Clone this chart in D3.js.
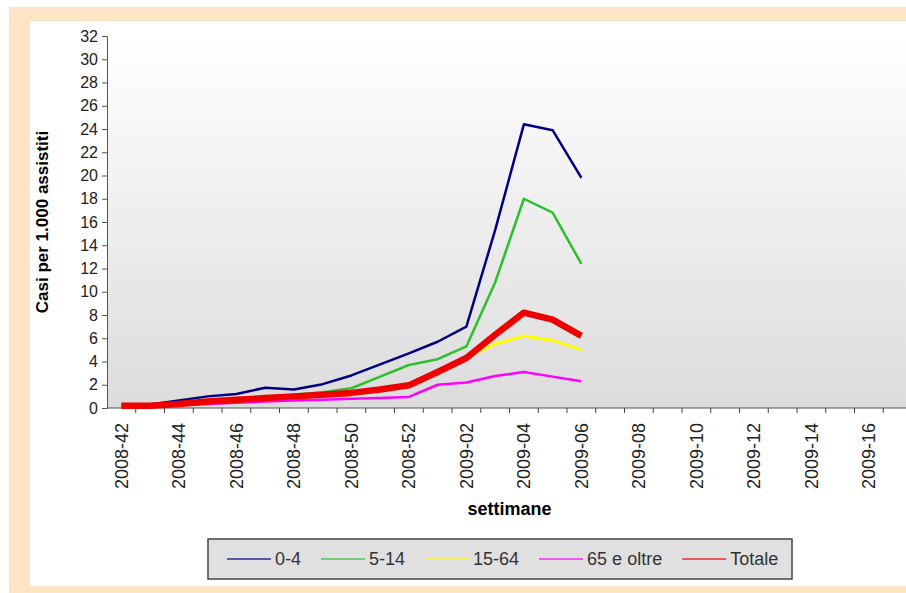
<!DOCTYPE html>
<html>
<head>
<meta charset="utf-8">
<script src="https://cdn.jsdelivr.net/npm/d3@7"></script>
<style>
  body { margin: 0; background: #fff; }
  svg { display: block; font-family: "Liberation Sans", Arial, sans-serif; }
</style>
</head>
<body>
<div id="chart"></div>
<script>
// weeks on the category axis (2008-42 .. 2009-17)
const weeks = ["2008-42","2008-43","2008-44","2008-45","2008-46","2008-47","2008-48","2008-49",
  "2008-50","2008-51","2008-52","2009-01","2009-02","2009-03","2009-04","2009-05","2009-06",
  "2009-07","2009-08","2009-09","2009-10","2009-11","2009-12","2009-13","2009-14","2009-15",
  "2009-16","2009-17"];

// only every other week gets a label
const tickLabels = ["2008-42","2008-44","2008-46","2008-48","2008-50","2008-52","2009-02",
  "2009-04","2009-06","2009-08","2009-10","2009-12","2009-14","2009-16"];

const yTicks = [0,2,4,6,8,10,12,14,16,18,20,22,24,26,28,30,32];

const seriesNames = ["0-4", "5-14", "15-64", "65 e oltre", "Totale"];

// cases per 1000, weeks 2008-42 .. 2009-06
const age0_4   = [0.2, 0.3, 0.65, 1.0, 1.2, 1.75, 1.6, 2.05, 2.8, 3.75, 4.7, 5.7, 7.0, 15.3, 24.4, 23.9, 19.8];
const age5_14  = [0.15, 0.2, 0.35, 0.5, 0.65, 0.9, 1.15, 1.35, 1.7, 2.7, 3.7, 4.2, 5.3, 10.8, 18.0, 16.8, 12.4];
const age15_64 = [0.1, 0.15, 0.3, 0.45, 0.6, 0.75, 0.9, 1.05, 1.2, 1.5, 1.85, 3.0, 4.4, 5.5, 6.2, 5.8, 5.0];
const age65    = [0.1, 0.15, 0.25, 0.35, 0.45, 0.55, 0.65, 0.7, 0.8, 0.85, 0.95, 2.0, 2.2, 2.75, 3.1, 2.7, 2.3];
const totale   = [0.2, 0.2, 0.35, 0.55, 0.7, 0.85, 1.0, 1.15, 1.3, 1.6, 1.95, 3.1, 4.3, 6.3, 8.2, 7.6, 6.2];

const series = [
  { name: seriesNames[0], values: age0_4,   color: "#000080", width: 2.5 },
  { name: seriesNames[1], values: age5_14,  color: "#2cc02c", width: 2.5 },
  { name: seriesNames[2], values: age15_64, color: "#ffff00", width: 3 },
  { name: seriesNames[3], values: age65,    color: "#ff00ff", width: 2.5 },
  { name: seriesNames[4], values: totale,   color: "#ee0000", width: 6.5 }
];

const W = 906, H = 593;
const margin = { top: 36, left: 107, bottom: 185 };
const plotW = 805;   // runs past the right edge, like the original
const plotH = H - margin.top - margin.bottom;

const svg = d3.select("#chart").append("svg")
  .attr("width", W).attr("height", H);

// orange frame
const frame = "#fce4c4";
svg.append("rect").attr("x", 9).attr("y", 7).attr("width", W - 9).attr("height", 14).attr("fill", frame);
svg.append("rect").attr("x", 9).attr("y", 7).attr("width", 21).attr("height", H - 7).attr("fill", frame);
svg.append("rect").attr("x", 9).attr("y", 586).attr("width", W - 9).attr("height", 7).attr("fill", frame);

// plot background gradient
const grad = svg.append("defs").append("linearGradient")
  .attr("id", "bg").attr("x1", 0).attr("y1", 0).attr("x2", 0).attr("y2", 1);
grad.append("stop").attr("offset", "0%").attr("stop-color", "#ffffff");
grad.append("stop").attr("offset", "100%").attr("stop-color", "#dcdcdc");

const g = svg.append("g").attr("transform", `translate(${margin.left},${margin.top})`);

g.append("rect").attr("width", plotW).attr("height", plotH).attr("fill", "url(#bg)");

const x = d3.scaleBand().domain(weeks).range([0, plotW]);
const y = d3.scaleLinear().domain([0, 32]).range([plotH, 0]);

// y axis
const yAxis = g.append("g")
  .call(d3.axisLeft(y).tickValues(yTicks).tickSize(5).tickPadding(4));
yAxis.selectAll("text").style("font-size", "16px").attr("fill", "#222");
yAxis.selectAll("line, path").attr("stroke", "#555");

// x axis: ticks between categories, labels every other week
const xAxis = g.append("g").attr("transform", `translate(0,${plotH})`);
xAxis.append("line").attr("x1", 0).attr("x2", plotW).attr("stroke", "#555");
xAxis.selectAll(".tk").data(weeks).enter().append("line")
  .attr("x1", d => x(d) + x.bandwidth()).attr("x2", d => x(d) + x.bandwidth())
  .attr("y1", 0).attr("y2", 5).attr("stroke", "#444");
xAxis.selectAll(".lb").data(tickLabels).enter().append("text")
  .attr("transform", d => `translate(${x(d) + x.bandwidth() / 2},15) rotate(-90)`)
  .attr("text-anchor", "end").attr("dy", "0.35em")
  .style("font-size", "18px").attr("fill", "#222")
  .text(d => d);

// axis titles
svg.append("text")
  .attr("transform", `translate(48,${margin.top + plotH / 2}) rotate(-90)`)
  .attr("text-anchor", "middle")
  .style("font-size", "17px").style("font-weight", "bold")
  .text("Casi per 1.000 assistiti");

svg.append("text")
  .attr("x", margin.left + plotW / 2).attr("y", 515)
  .attr("text-anchor", "middle")
  .style("font-size", "18px").style("font-weight", "bold")
  .text("settimane");

// lines
const line = d3.line()
  .x((d, i) => x(weeks[i]) + x.bandwidth() / 2)
  .y(d => y(d));

g.selectAll(".series").data(series).enter().append("path")
  .attr("d", d => line(d.values))
  .attr("fill", "none")
  .attr("stroke", d => d.color)
  .attr("stroke-width", d => d.width)
  .attr("stroke-linejoin", "round");

// legend
const legend = svg.append("g");
legend.append("rect")
  .attr("x", 208).attr("y", 539).attr("width", 584).attr("height", 40)
  .attr("fill", "#e0e0e0").attr("stroke", "#444").attr("stroke-width", 1.5);

let lx = 227;
series.forEach(s => {
  legend.append("line")
    .attr("x1", lx).attr("x2", lx + 44).attr("y1", 559).attr("y2", 559)
    .attr("stroke", s.color).attr("stroke-width", 2).attr("opacity", 0.6);
  const t = legend.append("text")
    .attr("x", lx + 48).attr("y", 565)
    .style("font-size", "18px").attr("fill", "#333")
    .text(s.name);
  lx += 48 + t.node().getComputedTextLength() + 20;
});
</script>
</body>
</html>
